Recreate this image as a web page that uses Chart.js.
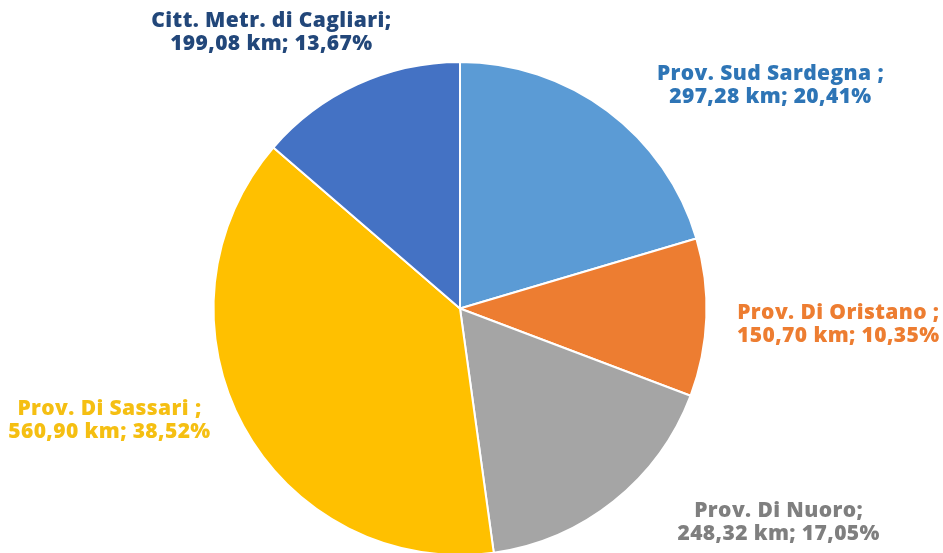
<!DOCTYPE html>
<html>
<head>
<meta charset="utf-8">
<script src="https://cdn.jsdelivr.net/npm/chart.js@4"></script>
<style>
html,body{margin:0;padding:0;background:#fff;overflow:hidden;}
#wrap{position:relative;width:943px;height:560px;}
</style>
</head>
<body>
<div id="wrap"><canvas id="c"></canvas></div>
<script>
const categories = ["Prov. Sud Sardegna ;", "Prov. Di Oristano ;", "Prov. Di Nuoro;", "Prov. Di Sassari ;", "Citt. Metr. di Cagliari;"];
const kmValues = [297.28, 150.70, 248.32, 560.90, 199.08];
const sliceColors = ["#5B9BD5", "#ED7D31", "#A5A5A5", "#FFC000", "#4472C4"];
const labelColors = ["#2E75B6", "#ED7D31", "#7F7F7F", "#F5BF12", "#22477A"];

const labelOffsets = [[163,-25],[132,7],[165,21],[-134,-6],[-86,-52]];

const fmt = v => v.toFixed(2).replace('.', ',');

const labelPlugin = {
  id: 'sliceLabels',
  afterDatasetsDraw(chart) {
    const ctx = chart.ctx;
    const meta = chart.getDatasetMeta(0);
    const data = chart.data.datasets[0].data;
    const total = data.reduce((a,b)=>a+b,0);
    ctx.save();
    ctx.font = '800 21px "Open Sans"';
    if ('letterSpacing' in ctx) ctx.letterSpacing = '0.4px';
    ctx.textAlign = 'center';
    ctx.textBaseline = 'middle';
    meta.data.forEach((arc, i) => {
      const p = arc.getProps(['x','y','startAngle','endAngle','outerRadius'], true);
      const mid = (p.startAngle + p.endAngle) / 2;
      const ax = p.x + Math.cos(mid) * p.outerRadius + labelOffsets[i][0];
      const ay = p.y + Math.sin(mid) * p.outerRadius + labelOffsets[i][1];
      ctx.fillStyle = labelColors[i];
      ctx.fillText(chart.data.labels[i], ax, ay - 11.5);
      ctx.fillText(fmt(data[i]) + ' km; ' + fmt(data[i] / total * 100) + '%', ax, ay + 11.5);
    });
    ctx.restore();
  }
};

new Chart(document.getElementById('c'), {
  type: 'pie',
  data: {
    labels: categories,
    datasets: [{
      data: kmValues,
      backgroundColor: sliceColors,
      borderColor: '#ffffff',
      borderWidth: 2
    }]
  },
  options: {
    responsive: true,
    maintainAspectRatio: false,
    animation: false,
    layout: { padding: { top: 61, bottom: 4, left: 0, right: 23 } },
    plugins: { legend: { display: false }, tooltip: { enabled: false } }
  },
  plugins: [labelPlugin]
});
</script>
</body>
</html>
